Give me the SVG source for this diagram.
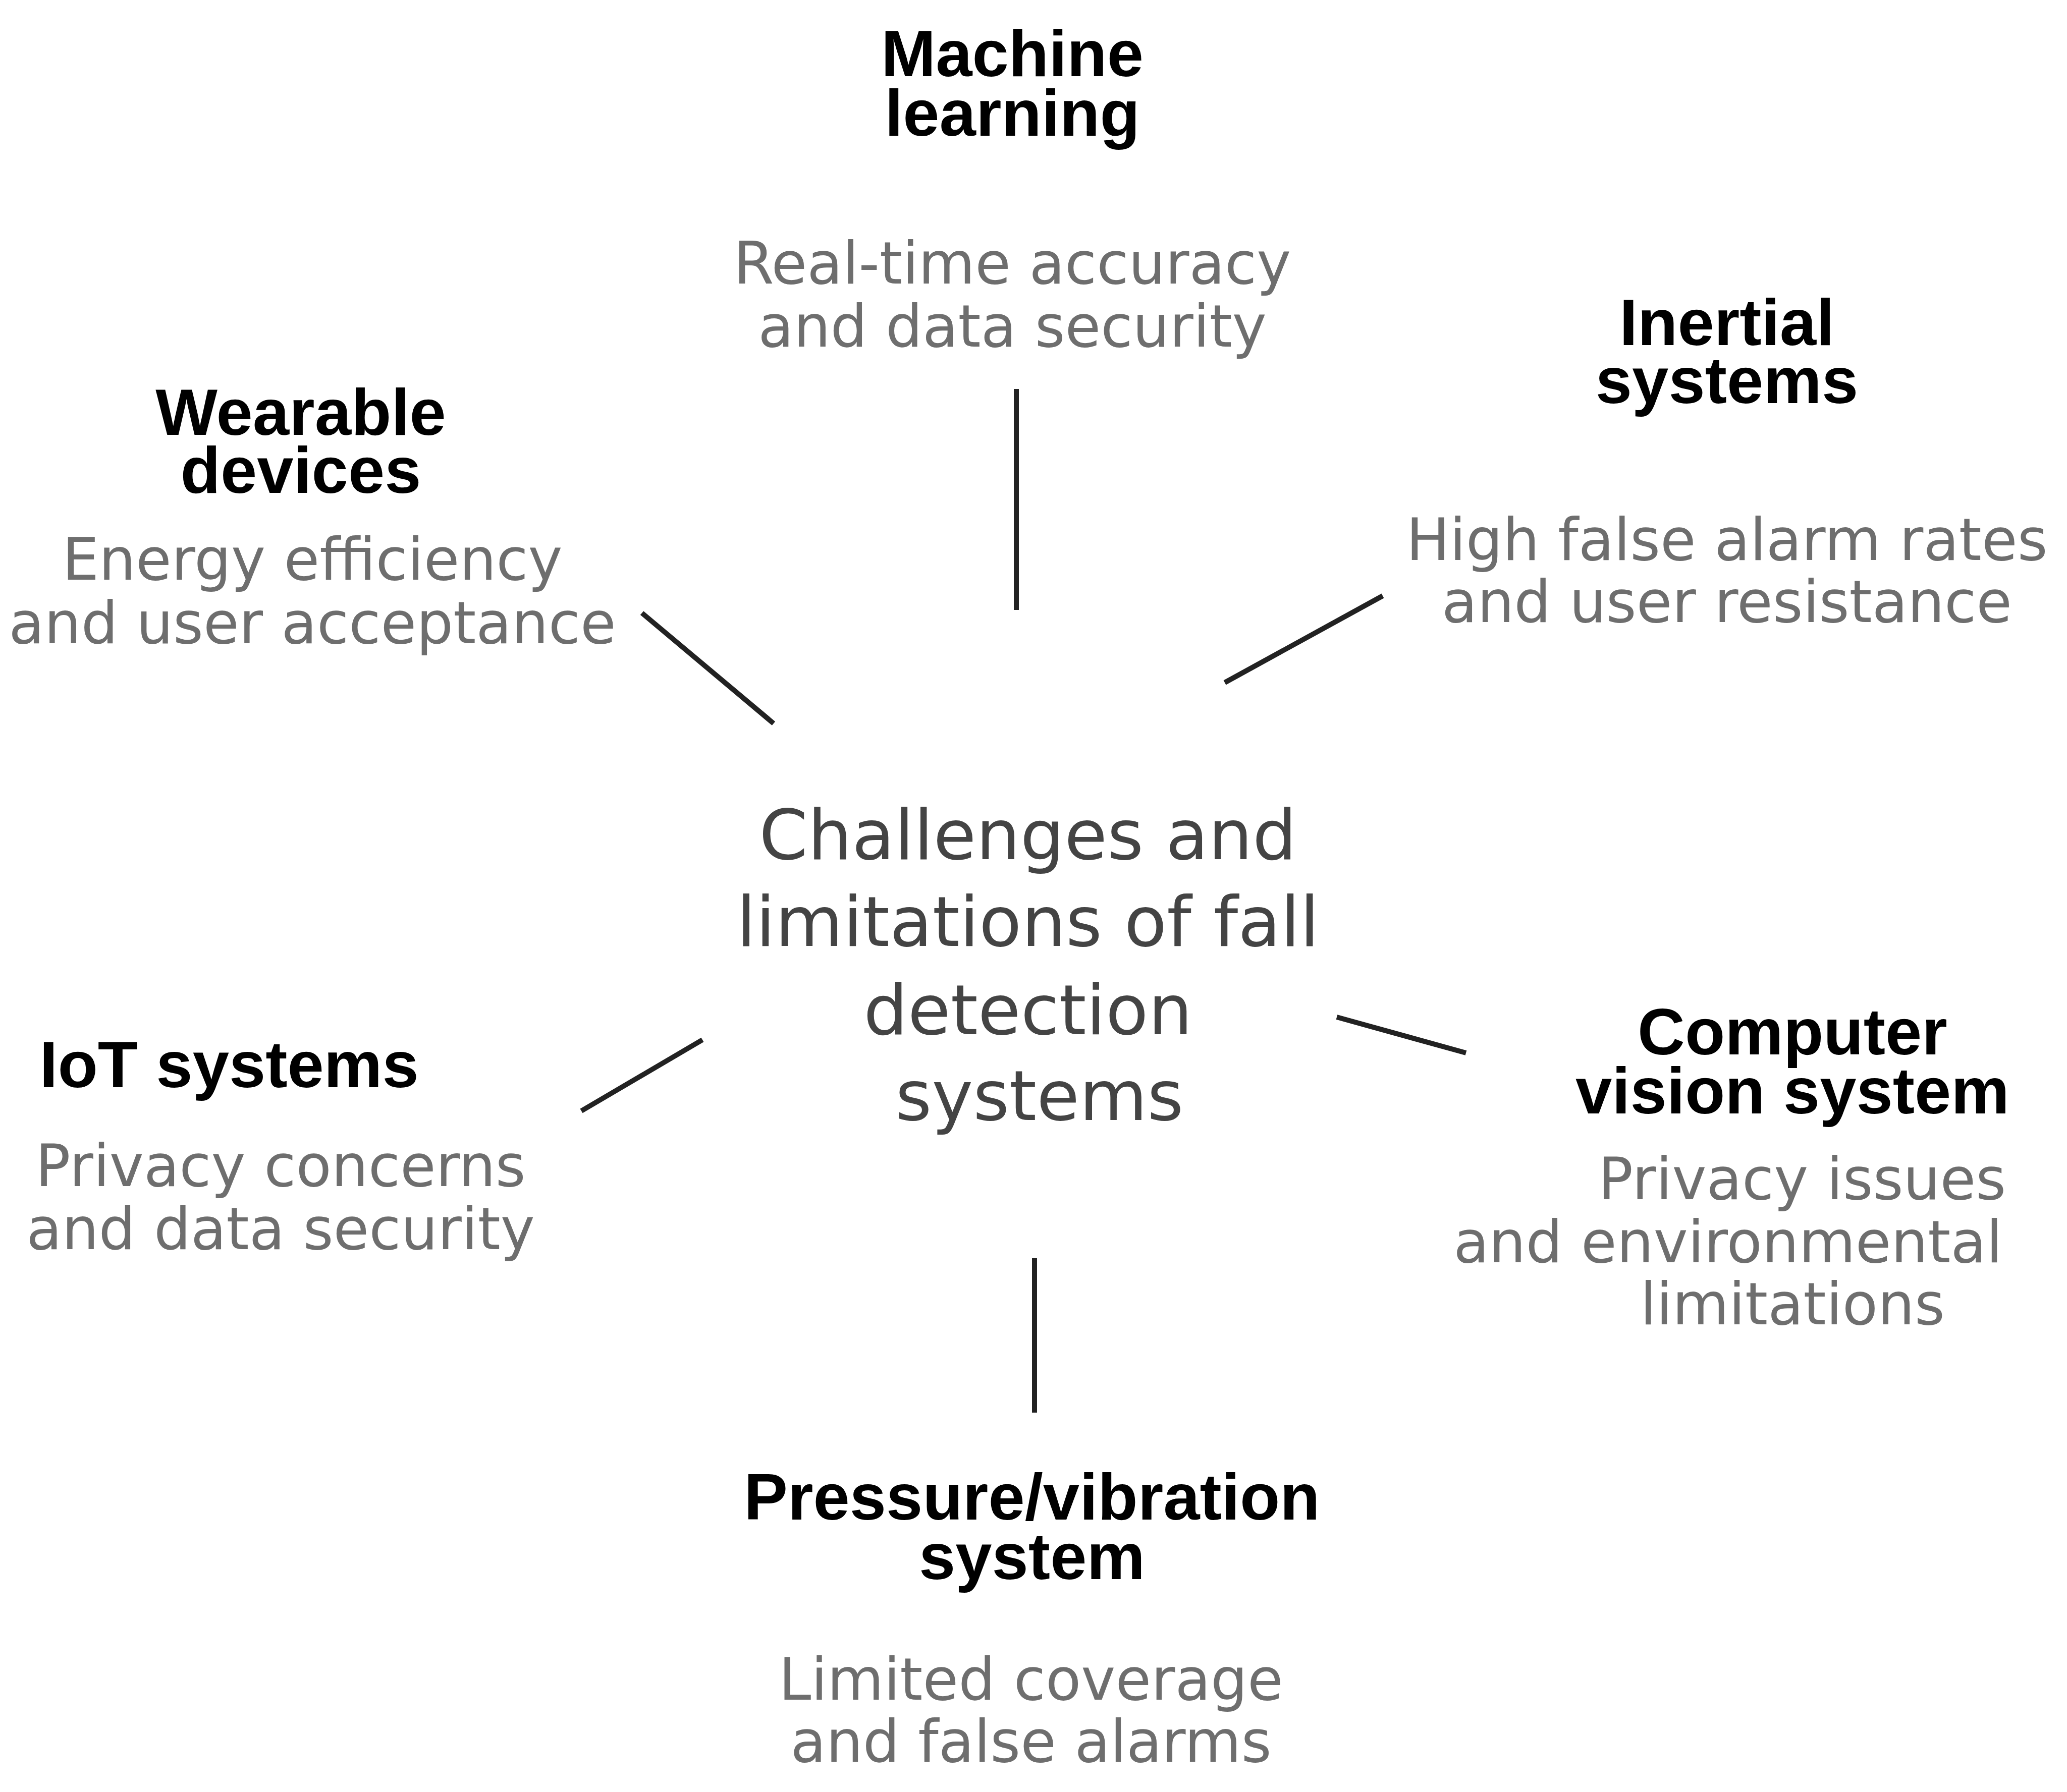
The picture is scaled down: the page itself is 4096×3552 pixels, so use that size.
<svg xmlns="http://www.w3.org/2000/svg" width="4096" height="3552" viewBox="0 0 4096 3552">
<style>
.t{font-family:"Liberation Sans",Arial,sans-serif;font-weight:bold;font-size:130px;fill:#000;text-anchor:middle}
.s{font-family:"DejaVu Sans",Verdana,sans-serif;font-size:115px;fill:#6e6e6e;text-anchor:middle}
.c{font-family:"DejaVu Sans",Verdana,sans-serif;font-size:138px;fill:#444;text-anchor:middle}
.l{stroke:#222;stroke-width:10;stroke-linecap:butt}
</style>
<rect width="4096" height="3552" fill="#fff"/>
<g id="connectors">
<line class="l" x1="2014" y1="771" x2="2014" y2="1209"/>
<line class="l" x1="2740" y1="1181" x2="2427" y2="1353"/>
<line class="l" x1="1272" y1="1215" x2="1533" y2="1434"/>
<line class="l" x1="1392" y1="2061" x2="1152" y2="2202"/>
<line class="l" x1="2649" y1="2016" x2="2905" y2="2087"/>
<line class="l" x1="2050" y1="2494" x2="2050" y2="2800"/>
</g>
<g id="center">
<text class="c" x="2037" y="1703">Challenges and</text>
<text class="c" x="2037" y="1875">limitations of fall</text>
<text class="c" x="2037" y="2050">detection</text>
<text class="c" x="2060" y="2220">systems</text>
</g>
<g id="machine-learning">
<text class="t" x="2006" y="151">Machine</text>
<text class="t" x="2006" y="269">learning</text>
<text class="s" x="2006" y="562">Real-time accuracy</text>
<text class="s" x="2006" y="687">and data security</text>
</g>
<g id="inertial">
<text class="t" x="3422" y="684">Inertial</text>
<text class="t" x="3422" y="799">systems</text>
<text class="s" x="3422" y="1110">High false alarm rates</text>
<text class="s" x="3422" y="1233">and user resistance</text>
</g>
<g id="wearable">
<text class="t" x="596" y="862">Wearable</text>
<text class="t" x="596" y="977">devices</text>
<text class="s" x="619" y="1149">Energy efficiency</text>
<text class="s" x="619" y="1275">and user acceptance</text>
</g>
<g id="iot">
<text class="t" x="454" y="2155">IoT systems</text>
<text class="s" x="556" y="2351">Privacy concerns</text>
<text class="s" x="556" y="2476">and data security</text>
</g>
<g id="computer-vision">
<text class="t" x="3552" y="2090">Computer</text>
<text class="t" x="3552" y="2207">vision system</text>
<text class="s" x="3571" y="2377">Privacy issues</text>
<text class="s" x="3424" y="2502">and environmental</text>
<text class="s" x="3552" y="2625">limitations</text>
</g>
<g id="pressure">
<text class="t" x="2045" y="3012">Pressure/vibration</text>
<text class="t" x="2045" y="3130">system</text>
<text class="s" x="2043" y="3369">Limited coverage</text>
<text class="s" x="2043" y="3492">and false alarms</text>
</g>
</svg>
